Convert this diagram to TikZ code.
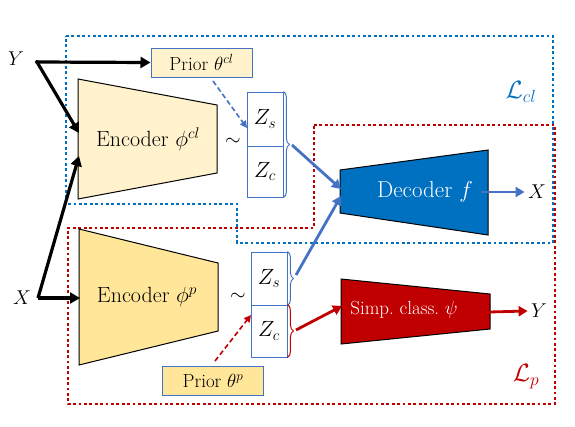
\RequirePackage{fix-cm}
\documentclass[tikz,border=0pt]{standalone}
\usetikzlibrary{arrows.meta,decorations.pathreplacing}
\definecolor{lightyel}{HTML}{FFF2CC}
\definecolor{midyel}{HTML}{FFE699}
\definecolor{dblue}{HTML}{0070C0}
\definecolor{lblue}{HTML}{4472C4}
\definecolor{dred}{HTML}{C00000}
\begin{document}
\begin{tikzpicture}[x=1pt,y=-1pt,
  dotblue/.style={draw=dblue, line width=2.8pt, dash pattern=on 2.8pt off 2.6pt},
  dotred/.style={draw=dred, line width=2.8pt, dash pattern=on 2.8pt off 2.6pt},
  trap/.style={draw=black, line width=1pt, line join=miter},
  blkarr/.style={draw=black, line width=3.2pt, -{Triangle[length=10pt,width=11pt]}},
  bluarr/.style={draw=lblue, line width=2.8pt, -{Triangle[length=9pt,width=10pt]}},
  redarr/.style={draw=dred, line width=2.8pt, -{Triangle[length=9pt,width=10pt]}},
  bludash/.style={draw=lblue, line width=1.6pt, dash pattern=on 5pt off 3pt, -{Triangle[length=7pt,width=7pt]}},
  reddash/.style={draw=dred, line width=1.6pt, dash pattern=on 5pt off 3pt, -{Triangle[length=7pt,width=7pt]}},
  priorbox/.style={draw=lblue, line width=1pt, inner sep=0pt, font=\fontsize{19}{21}\selectfont},
  zbox/.style={draw=lblue, line width=0.9pt, inner sep=0pt, minimum width=36pt, font=\fontsize{22}{24}\selectfont},
  bigtxt/.style={font=\fontsize{22}{25}\selectfont},
  lbl/.style={font=\fontsize{20}{22}\selectfont},
  brc/.style={line width=1pt, decorate, decoration={brace, amplitude=6pt}}
]
\useasboundingbox (0,0) rectangle (575,426);

% loss regions
\draw[dotblue] (66,36) -- (553,36) -- (553,243) -- (237,243) -- (237,204) -- (66,204) -- cycle;
\draw[dotred] (314,125) -- (555,125) -- (555,404) -- (68,404) -- (68,228) -- (314,228) -- cycle;
\node[font=\fontsize{25}{27}\selectfont, text=dblue] (lcl) at (521,92) {$\mathcal{L}_{cl}$};
\node[font=\fontsize{25}{27}\selectfont, text=dred] (lp) at (526,377) {$\mathcal{L}_{p}$};

% encoders
\fill[lightyel] (78,79) -- (217,105) -- (217,173) -- (78,199) -- cycle;
\draw[trap] (78,79) -- (217,105) -- (217,173) -- (78,199) -- cycle;
\node[bigtxt] (enccl) at (148,139) {Encoder $\phi^{cl}$};
\fill[midyel] (79,229) -- (218,263) -- (218,331) -- (79,365) -- cycle;
\draw[trap] (79,229) -- (218,263) -- (218,331) -- (79,365) -- cycle;
\node[bigtxt] (encp) at (147,297) {Encoder $\phi^{p}$};

% decoder and classifier
\fill[dblue] (340,170) -- (488,150) -- (488,235) -- (340,213) -- cycle;
\draw[trap] (340,170) -- (488,150) -- (488,235) -- (340,213) -- cycle;
\node[font=\fontsize{23}{25}\selectfont, text=white] (dec) at (425,192) {Decoder $f$};
\fill[dred] (341,279) -- (490,294) -- (490,329) -- (341,344) -- cycle;
\draw[trap] (341,279) -- (490,294) -- (490,329) -- (341,344) -- cycle;
\node[font=\fontsize{19}{21}\selectfont, text=white] (cls) at (404,310) {Simp.\ class.\ $\psi$};

% priors
\node[priorbox, fill=lightyel, minimum width=101pt, minimum height=29pt] (pcl) at (201.5,62.5) {Prior $\theta^{cl}$};
\node[priorbox, fill=midyel, minimum width=101pt, minimum height=29pt] (pp) at (213,380.5) {Prior $\theta^{p}$};

% latent boxes
\node[zbox, minimum height=54pt] (zs1) at (265,119) {$Z_s$};
\node[zbox, minimum height=51pt] (zc1) at (265,171.5) {$Z_c$};
\node[zbox, minimum height=53pt] (zs2) at (269,278.5) {$Z_s$};
\node[zbox, minimum height=52pt] (zc2) at (269,331) {$Z_c$};
\node[lbl] (t1) at (233,142) {$\sim$};
\node[lbl] (t2) at (238,297) {$\sim$};

% braces
\draw[brc, lblue] (zs1.north east) -- (zc1.south east);
\draw[brc, lblue] (zs2.north east) -- (zs2.south east);
\draw[brc, dred] (zc2.north east) -- (zc2.south east);
\coordinate (b1t) at (292,145);
\coordinate (b2t) at (296,275);
\coordinate (b3t) at (296,330);

% inputs / outputs
\node[lbl] (Yin) at (16,59) {$Y$};
\node[lbl] (Xin) at (22,298) {$X$};
\node[lbl] (Xout) at (537,192) {$X$};
\node[lbl] (Yout) at (539,311) {$Y$};
\coordinate (ydot) at (37,62);
\coordinate (xdot) at (38,298);
\coordinate (eclY) at (79,133);
\coordinate (eclX) at (79,156);
\coordinate (epX) at (80,298);
\coordinate (decin1) at (341,189);
\coordinate (decin2) at (341,196);
\coordinate (decout) at (481,192);
\coordinate (clsin) at (342,306);
\coordinate (clsout) at (489,312);
\coordinate (pclout) at (213,81);
\coordinate (zs1in) at (247,128);
\coordinate (ppout) at (215,361);
\coordinate (zc2in) at (251,315);

\fill (ydot) circle (2pt);
\draw[blkarr] (ydot) -- (pcl.west);
\draw[blkarr] (ydot) -- (eclY);
\draw[blkarr] (xdot) -- (eclX);
\draw[blkarr] (xdot) -- (epX);
\draw[bludash] (pclout) -- (zs1in);
\draw[reddash] (ppout) -- (zc2in);
\draw[bluarr] (b1t) -- (decin1);
\draw[bluarr] (b2t) -- (decin2);
\draw[bluarr] (decout) -- (Xout.west);
\draw[redarr] (b3t) -- (clsin);
\draw[redarr] (clsout) -- (Yout.west);
\end{tikzpicture}
\end{document}
